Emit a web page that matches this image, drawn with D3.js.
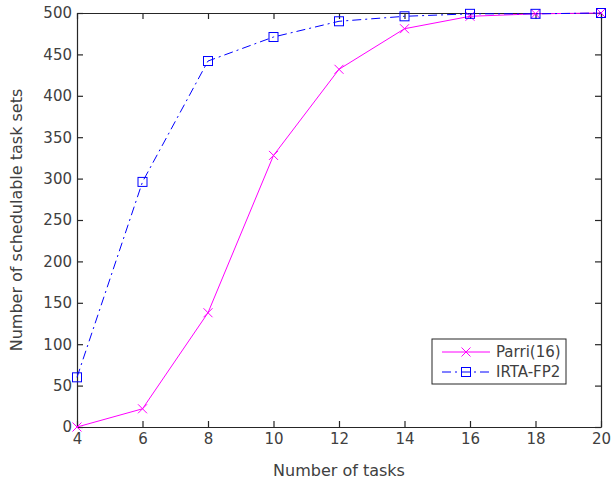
<!DOCTYPE html>
<html>
<head>
<meta charset="utf-8">
<script src="https://cdn.jsdelivr.net/npm/d3@7"></script>
<style>
  body { margin: 0; background: #fff; }
  svg text { font-family: "DejaVu Sans", sans-serif; fill: #404040; }
</style>
</head>
<body>
<script>
// data
var tasks = [4, 6, 8, 10, 12, 14, 16, 18, 20];
var parri = [0, 22, 138, 328, 432, 481, 496, 499, 500];
var irta = [60, 296, 442, 471, 490, 496, 499, 499, 500];
var seriesNames = ["Parri(16)", "IRTA-FP2"];
var xTicks = [4, 6, 8, 10, 12, 14, 16, 18, 20];
var yTicks = [0, 50, 100, 150, 200, 250, 300, 350, 400, 450, 500];

var margin = {top: 13, right: 10, bottom: 60, left: 77};
var width = 611 - margin.left - margin.right;
var height = 487 - margin.top - margin.bottom;

var svg = d3.select("body").append("svg")
    .attr("width", 611)
    .attr("height", 487);
var g = svg.append("g")
    .attr("transform", "translate(" + margin.left + "," + margin.top + ")");

var x = d3.scaleLinear().domain([4, 20]).range([0, width]);
var y = d3.scaleLinear().domain([0, 500]).range([height, 0]);

var axisColor = "#262626";
var dash = "9,4,2,4";

// box with inward ticks (matlab style)
function styleAxis(sel) {
  sel.select(".domain").attr("stroke", axisColor).attr("stroke-width", 1.2);
  sel.selectAll(".tick line").attr("stroke", axisColor).attr("stroke-width", 1.2);
  sel.selectAll("text").style("font-size", "15px").attr("fill", "#404040");
}

g.append("g")
  .attr("transform", "translate(0," + height + ")")
  .call(d3.axisBottom(x).tickValues(xTicks).tickSize(-6).tickPadding(6).tickSizeOuter(0))
  .call(styleAxis);
g.append("g")
  .call(d3.axisTop(x).tickValues(xTicks).tickSize(-6).tickFormat("").tickSizeOuter(0))
  .call(styleAxis);
g.append("g")
  .call(d3.axisLeft(y).tickValues(yTicks).tickSize(-6).tickPadding(5).tickSizeOuter(0))
  .call(styleAxis);
g.append("g")
  .attr("transform", "translate(" + width + ",0)")
  .call(d3.axisRight(y).tickValues(yTicks).tickSize(-6).tickFormat("").tickSizeOuter(0))
  .call(styleAxis);

// axis labels
svg.append("text")
  .attr("x", margin.left + width / 2)
  .attr("y", 476)
  .attr("text-anchor", "middle")
  .style("font-size", "16px")
  .text("Number of tasks");
svg.append("text")
  .attr("transform", "translate(22," + (margin.top + height / 2) + ") rotate(-90)")
  .attr("text-anchor", "middle")
  .style("font-size", "16px")
  .text("Number of schedulable task sets");

var line = d3.line()
  .x(function(d) { return x(d[0]); })
  .y(function(d) { return y(d[1]); });

var parriData = tasks.map(function(t, i) { return [t, parri[i]]; });
var irtaData = tasks.map(function(t, i) { return [t, irta[i]]; });

// Parri(16) - solid magenta with x markers
g.append("path")
  .datum(parriData)
  .attr("d", line)
  .attr("fill", "none")
  .attr("stroke", "#ff00ff")
  .attr("stroke-width", 1);
g.selectAll(".xmark")
  .data(parriData)
  .enter().append("path")
  .attr("class", "xmark")
  .attr("transform", function(d) { return "translate(" + x(d[0]) + "," + y(d[1]) + ")"; })
  .attr("d", "M-4.5,-4.5L4.5,4.5M-4.5,4.5L4.5,-4.5")
  .attr("stroke", "#ff00ff")
  .attr("stroke-width", 1);

// IRTA-FP2 - blue dash-dot with squares
g.append("path")
  .datum(irtaData)
  .attr("d", line)
  .attr("fill", "none")
  .attr("stroke", "#0000ff")
  .attr("stroke-width", 1)
  .attr("stroke-dasharray", dash);
g.selectAll(".sq")
  .data(irtaData)
  .enter().append("rect")
  .attr("class", "sq")
  .attr("x", function(d) { return x(d[0]) - 4.5; })
  .attr("y", function(d) { return y(d[1]) - 4.5; })
  .attr("width", 9)
  .attr("height", 9)
  .attr("fill", "none")
  .attr("stroke", "#0000ff")
  .attr("stroke-width", 1);

// legend
var lg = svg.append("g").attr("transform", "translate(432,339)");
lg.append("rect")
  .attr("width", 134)
  .attr("height", 45)
  .attr("fill", "#fff")
  .attr("stroke", axisColor)
  .attr("stroke-width", 1);
var rows = lg.selectAll(".legrow")
  .data(seriesNames)
  .enter().append("g")
  .attr("transform", function(d, i) { return "translate(0," + (13 + i * 20) + ")"; });
rows.append("line")
  .attr("x1", 10).attr("x2", 58)
  .attr("stroke", function(d, i) { return i === 0 ? "#ff00ff" : "#0000ff"; })
  .attr("stroke-dasharray", function(d, i) { return i === 0 ? null : dash; });
rows.filter(function(d, i) { return i === 0; }).append("path")
  .attr("d", "M29.5,-4.5L38.5,4.5M29.5,4.5L38.5,-4.5")
  .attr("stroke", "#ff00ff");
rows.filter(function(d, i) { return i === 1; }).append("rect")
  .attr("x", 29.5).attr("y", -4.5).attr("width", 9).attr("height", 9)
  .attr("fill", "none").attr("stroke", "#0000ff");
rows.append("text")
  .attr("x", 64)
  .attr("dy", "0.35em")
  .style("font-size", "15px")
  .text(function(d) { return d; });
</script>
</body>
</html>
